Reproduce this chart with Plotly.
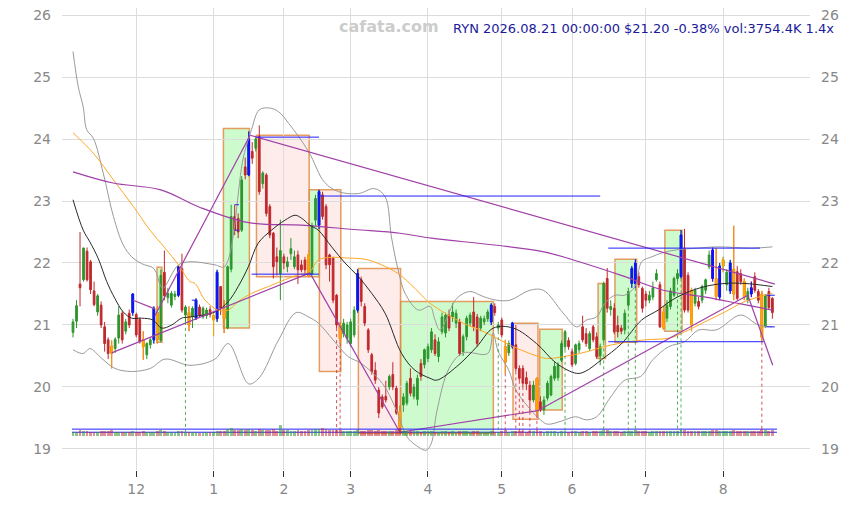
import plotly.graph_objects as go
import pandas as pd

# ---------------- data ----------------
HOLIDAYS = ["2025-11-27", "2025-12-25", "2026-01-01", "2026-01-19", "2026-02-16",
            "2026-04-03", "2026-05-25", "2026-06-19", "2026-07-03"]
DAYS = [d for d in pd.bdate_range("2025-11-04", "2026-08-21") if d.strftime("%Y-%m-%d") not in HOLIDAYS]

OPEN = [20.88, 21.06, 21.66, 21.73, 22.19, 22.02, 21.55, 21.21, 21.32, 20.97,
        20.76, 20.66, 20.62, 20.79, 21.19, 20.90, 21.19, 21.20, 21.17, 21.09,
        20.76, 20.52, 20.68, 20.76, 21.20, 20.75, 21.85, 21.44, 21.32, 21.46,
        21.48, 21.91, 21.16, 21.20, 21.13, 21.11, 21.29, 21.13, 21.15, 21.25,
        21.08, 21.10, 21.62, 21.26, 20.95, 21.90, 22.75, 22.72, 22.53, 23.55,
        23.42, 23.80, 23.85, 24.04, 23.28, 23.42, 22.91, 22.48, 22.10, 21.83,
        22.10, 21.94, 22.15, 21.94, 22.13, 21.97, 22.05, 22.13, 21.82, 22.69,
        22.61, 23.10, 22.91, 22.13, 22.08, 21.48, 21.00, 20.86, 20.78, 20.70,
        20.84, 21.24, 21.73, 21.30, 20.92, 20.52, 20.27, 19.95, 19.84, 19.85,
        20.00, 20.20, 19.98, 19.60, 19.71, 19.74, 20.14, 19.85, 19.80, 20.38,
        20.36, 20.46, 20.60, 20.76, 20.49, 20.89, 20.87, 21.16, 21.13, 21.03,
        21.05, 20.57, 20.81, 21.03, 21.21, 21.13, 20.95, 21.05, 21.10, 21.05,
        21.30, 20.95, 21.08, 20.65, 20.55, 20.65, 20.68, 20.30, 20.30, 20.15,
        20.03, 19.79, 20.14, 19.76, 19.63, 19.82, 19.87, 20.14, 20.15, 20.43,
        20.65, 20.75, 20.57, 20.38, 20.60, 20.97, 20.86, 20.62, 20.97, 20.81,
        20.50, 20.76, 21.75, 21.25, 21.27, 20.99, 20.95, 20.92, 21.32, 21.67,
        21.67, 21.78, 21.59, 21.50, 21.40, 21.45, 21.73, 21.65, 21.21, 21.11,
        21.30, 21.48, 21.75, 21.78, 22.24, 21.80, 21.56, 21.35, 21.38, 21.40,
        21.56, 21.94, 22.21, 21.75, 21.45, 21.95, 21.65, 21.55, 21.90, 21.86,
        21.83, 21.70, 21.40, 21.60, 21.78, 21.54, 21.50, 20.97, 21.54, 21.43]
HIGH = [21.10, 21.40, 22.50, 22.25, 22.25, 22.05, 21.70, 21.50, 21.38, 21.05,
        20.80, 20.75, 20.80, 21.30, 21.22, 21.10, 21.25, 21.51, 21.20, 21.12,
        20.90, 20.72, 20.80, 21.30, 21.30, 21.90, 22.20, 21.60, 21.55, 21.55,
        21.96, 22.15, 21.32, 21.30, 21.30, 21.43, 21.33, 21.30, 21.28, 21.30,
        21.20, 21.89, 21.62, 21.40, 21.96, 22.94, 22.94, 22.80, 23.40, 23.70,
        24.12, 23.95, 24.05, 24.22, 23.48, 23.45, 22.95, 22.50, 22.25, 22.70,
        22.15, 22.10, 22.40, 22.20, 22.20, 22.05, 22.10, 22.20, 22.65, 23.10,
        23.18, 23.15, 22.95, 22.15, 22.10, 21.50, 21.05, 21.10, 21.05, 21.10,
        21.30, 21.90, 21.78, 21.35, 20.95, 20.55, 20.40, 20.00, 19.88, 20.10,
        20.20, 20.40, 20.02, 19.70, 19.90, 20.10, 20.30, 20.05, 20.20, 20.45,
        20.62, 20.70, 20.95, 20.85, 20.80, 21.20, 21.20, 21.25, 21.35, 21.25,
        21.10, 20.85, 21.15, 21.20, 21.45, 21.18, 21.15, 21.15, 21.25, 21.35,
        21.35, 21.05, 21.12, 20.76, 20.75, 21.05, 21.00, 20.35, 20.35, 20.25,
        20.10, 20.10, 20.15, 19.85, 19.85, 20.10, 20.20, 20.40, 20.40, 20.75,
        20.92, 20.80, 20.62, 20.70, 20.75, 21.15, 20.95, 20.90, 21.00, 20.88,
        20.70, 21.70, 21.92, 21.40, 21.35, 21.15, 21.00, 21.25, 21.60, 21.95,
        22.06, 21.85, 21.62, 21.55, 21.55, 21.70, 21.90, 21.70, 21.30, 21.40,
        21.60, 21.78, 21.90, 22.53, 22.55, 21.85, 21.60, 21.60, 21.45, 21.65,
        21.75, 22.20, 22.25, 22.24, 22.00, 22.10, 21.90, 22.05, 22.60, 21.95,
        21.90, 21.75, 21.60, 21.70, 21.85, 21.58, 21.55, 21.50, 21.60, 21.45]
LOW = [20.80, 20.95, 21.30, 21.70, 21.70, 21.50, 21.30, 21.15, 20.95, 20.57,
       20.45, 20.30, 20.55, 20.70, 20.70, 20.85, 20.95, 21.15, 20.80, 20.70,
       20.44, 20.45, 20.62, 20.70, 20.70, 20.72, 21.40, 21.35, 21.28, 21.40,
       21.45, 21.20, 21.05, 20.90, 20.95, 21.08, 21.12, 21.10, 21.10, 21.12,
       20.82, 21.05, 21.16, 20.87, 20.93, 21.85, 22.45, 22.40, 22.50, 23.35,
       23.40, 23.60, 23.80, 23.10, 23.20, 22.75, 22.40, 21.75, 21.80, 21.40,
       21.90, 21.85, 22.05, 21.90, 21.66, 21.85, 21.80, 21.78, 21.80, 22.60,
       22.55, 22.70, 21.90, 21.70, 21.35, 20.95, 20.70, 20.80, 20.70, 20.65,
       20.80, 21.20, 21.30, 20.98, 20.55, 20.20, 20.05, 19.50, 19.65, 19.75,
       19.95, 19.95, 19.55, 19.25, 19.60, 19.70, 19.85, 19.80, 19.70, 20.10,
       20.30, 20.40, 20.55, 20.50, 20.40, 20.85, 20.80, 20.90, 21.05, 20.95,
       20.50, 20.50, 20.75, 20.98, 20.90, 20.65, 20.90, 21.00, 21.05, 21.00,
       21.15, 20.90, 20.80, 20.22, 20.50, 20.62, 20.25, 20.10, 20.00, 19.95,
       19.60, 19.75, 19.55, 19.60, 19.55, 19.78, 19.85, 20.10, 20.10, 20.40,
       20.60, 20.60, 20.32, 20.35, 20.55, 20.72, 20.65, 20.58, 20.72, 20.45,
       20.35, 20.72, 21.20, 21.15, 20.85, 20.80, 20.85, 20.85, 21.28, 21.60,
       21.60, 21.60, 21.20, 21.30, 21.35, 21.40, 21.70, 20.95, 20.92, 21.05,
       21.25, 21.45, 21.70, 21.75, 21.20, 21.20, 20.90, 21.30, 21.25, 21.35,
       21.50, 21.90, 21.70, 21.40, 21.40, 21.85, 21.55, 21.50, 21.40, 21.40,
       21.65, 21.40, 21.35, 21.45, 21.52, 21.35, 20.73, 20.95, 21.25, 21.10]
CLOSE = [21.05, 21.31, 21.60, 22.24, 21.73, 21.57, 21.33, 21.47, 21.00, 20.70,
         20.54, 20.54, 20.77, 21.16, 20.76, 21.05, 21.00, 21.50, 20.84, 20.73,
         20.65, 20.70, 20.76, 21.27, 20.76, 21.80, 21.47, 21.51, 21.51, 21.50,
         21.94, 21.24, 21.29, 21.00, 21.27, 21.40, 21.16, 21.27, 21.24, 21.17,
         21.15, 21.85, 21.27, 21.10, 21.94, 22.75, 22.53, 22.50, 23.34, 23.42,
         24.00, 23.69, 24.00, 23.15, 23.45, 22.80, 22.45, 21.94, 22.02, 22.20,
         22.00, 22.02, 22.23, 22.10, 21.89, 21.89, 21.89, 21.80, 22.60, 23.04,
         23.15, 22.75, 21.97, 21.97, 21.40, 21.00, 20.78, 21.03, 21.00, 21.05,
         21.24, 21.83, 21.38, 21.03, 20.60, 20.25, 20.11, 19.58, 19.68, 19.79,
         20.17, 20.00, 19.58, 19.35, 19.84, 20.06, 19.90, 20.00, 20.14, 20.17,
         20.60, 20.65, 20.89, 20.54, 20.73, 21.13, 21.16, 20.95, 21.21, 21.19,
         20.54, 20.81, 21.11, 21.16, 20.97, 20.70, 21.11, 21.10, 21.21, 21.32,
         21.20, 21.00, 20.84, 20.40, 20.70, 21.03, 20.30, 20.14, 20.06, 20.05,
         19.79, 20.03, 19.60, 19.63, 19.79, 20.06, 20.17, 20.33, 20.35, 20.70,
         20.89, 20.65, 20.36, 20.68, 20.70, 20.76, 20.70, 20.86, 20.76, 20.49,
         20.65, 21.67, 21.27, 21.30, 20.89, 20.89, 20.90, 21.19, 21.54, 21.91,
         22.00, 21.65, 21.27, 21.40, 21.48, 21.60, 21.83, 20.97, 20.95, 21.32,
         21.55, 21.75, 21.83, 22.45, 21.24, 21.24, 21.00, 21.56, 21.30, 21.62,
         21.73, 22.13, 21.75, 21.46, 21.95, 22.05, 21.85, 22.00, 21.50, 21.43,
         21.70, 21.45, 21.54, 21.50, 21.56, 21.40, 20.80, 21.48, 21.28, 21.20]
VOLUME_K = [2600, 2400, 3900, 3100, 2800, 2700, 2500, 2300, 2900, 3200,
            3000, 3400, 2600, 2700, 2500, 2400, 2300, 2800, 2600, 2700,
            3100, 2500, 2200, 2600, 3000, 3500, 3300, 2400, 2200, 2100,
            2800, 3300, 2500, 2700, 2300, 2400, 2000, 2100, 2200, 2300,
            2600, 3200, 2800, 2900, 4200, 4800, 3700, 3400, 4100, 3600,
            4500, 3800, 3300, 4400, 3500, 3900, 3600, 4000, 3200, 6800,
            3800, 3400, 3000, 3200, 3600, 3300, 3100, 3700, 3900, 4300,
            4100, 4600, 4000, 3700, 3500, 3800, 3400, 3000, 3100, 2900,
            3200, 3500, 3100, 3300, 3600, 3400, 3000, 3800, 3300, 2900,
            3100, 3200, 3700, 4600, 3300, 3000, 2900, 2800, 3100, 2700,
            2900, 2800, 3000, 2700, 2600, 3100, 2900, 2700, 2800, 2600,
            3200, 2800, 2900, 2700, 3000, 3100, 2600, 2500, 2700, 2900,
            2700, 2600, 2800, 3400, 2700, 3000, 3300, 2900, 2800, 2700,
            3100, 2900, 3500, 2800, 2700, 2900, 3000, 2800, 2700, 3000,
            3100, 2700, 2900, 2800, 2600, 3000, 2800, 2700, 2900, 3000,
            2800, 3900, 3600, 2900, 3100, 2800, 2600, 2900, 3000, 3300,
            3500, 3000, 3100, 2800, 2700, 2900, 3000, 3300, 3100, 2900,
            3000, 3100, 2900, 3800, 3600, 3200, 3300, 2900, 2800, 2900,
            3000, 3200, 3400, 3500, 3300, 3100, 2900, 3200, 3900, 3300,
            3000, 3100, 2900, 3000, 3200, 3100, 4000, 3600, 3300, 3754]

BLUE_IDX = [17, 23, 30, 35, 41, 50, 70, 81, 119, 125, 159, 160, 173, 182, 184, 187, 193]
ORANGE_IDX = [11, 20, 24, 33, 40, 43, 67, 76, 93, 123, 132, 168, 176, 183, 185, 188, 191, 196]

# moving-average / band lines read at selected bars
BLACK_IDX = [0, 2.9, 4.8, 7.2, 9.6, 11.9, 14.3, 16.7, 19.5, 22.8, 25.2, 28.1, 30.9, 33.3, 40.4,
             44.2, 47.0, 49.9, 52.7, 56.5, 60.3, 63.2, 65.1, 67.4, 69.8, 73.6, 77.4, 81.2, 85.0,
             88.8, 93.5, 97.3, 101.6, 103.5, 109.2, 114.9, 119.6, 125.3, 131.9, 137.6, 143.3,
             145.7, 150.4, 156.1, 161.8, 166.5, 169.8, 174.1, 179.8, 185.5, 191.2, 199]
BLACK_VAL = [23.02, 22.53, 22.34, 22.07, 21.70, 21.43, 21.21, 21.11, 21.11, 21.08, 20.95, 21.00,
             21.11, 21.13, 21.21, 21.38, 21.62, 21.94, 22.32, 22.53, 22.69, 22.77, 22.72, 22.61,
             22.53, 22.26, 22.00, 21.78, 21.51, 21.19, 20.54, 20.27, 20.14, 20.11, 20.33, 20.65,
             20.95, 20.95, 20.70, 20.38, 20.22, 20.25, 20.44, 20.70, 21.08, 21.24, 21.38, 21.51,
             21.62, 21.67, 21.67, 21.62]
ORANGE_IDX_MA = [0, 5.8, 11.5, 17.2, 21.9, 26.2, 30.0, 33.3, 34.7, 37.6, 41.3, 44.2, 47.0, 50.8,
                 55.6, 60.3, 64.1, 67.4, 69.8, 73.6, 78.3, 83.1, 87.8, 92.5, 97.3, 101.6, 111.0,
                 115.8, 120.5, 125.3, 130.0, 134.8, 139.5, 144.2, 153.3, 162.7, 169.8, 174.1,
                 179.8, 185.5, 191.2, 199]
ORANGE_VAL = [24.10, 23.77, 23.34, 22.91, 22.53, 22.24, 21.97, 21.70, 21.67, 21.40, 21.24, 21.24,
              21.38, 21.51, 21.62, 21.73, 21.81, 21.86, 22.05, 22.09, 22.08, 22.06, 21.97, 21.83,
              21.59, 21.35, 21.03, 20.92, 20.79, 20.65, 20.54, 20.46, 20.49, 20.54, 20.68, 20.76,
              20.79, 20.89, 21.05, 21.21, 21.38, 21.51]
PURPLE_IDX = [0, 11.4, 25, 36, 50, 65, 80, 93, 102, 120, 134, 144, 156, 168, 180, 190, 199]
PURPLE_VAL = [23.47, 23.29, 23.18, 22.90, 22.65, 22.61, 22.54, 22.48, 22.40, 22.29, 22.18, 22.02,
              21.80, 21.56, 21.45, 21.34, 21.24]
BB_UP_IDX = [0, 1.5, 2.9, 3.9, 5.8, 8.6, 11.5, 14.3, 16.7, 19.5, 23.0, 24.8, 25.6, 30.0, 33.3,
             40.4, 43.1, 48.5, 50.8, 53.0, 55.9, 58.5, 61.4, 67.0, 71.6, 75.6, 81.2, 85.8, 88.8,
             90.6, 92.5, 94.5, 98.3, 101.6, 102.9, 104.4, 109.2, 112.9, 116.7, 120.5, 124.3,
             130.0, 133.8, 139.5, 143.3, 146.1, 149.0, 151.3, 154.2, 157.0, 159.9, 161.8, 164.7,
             167.5, 171.5, 177.7, 183.4, 193.1, 199]
BB_UP_VAL = [25.41, 24.84, 24.52, 24.15, 24.01, 23.45, 22.75, 22.29, 22.10, 21.99, 21.91, 21.65,
             21.59, 21.97, 22.02, 21.97, 21.94, 23.71, 24.15, 24.47, 24.50, 24.44, 24.25, 23.80,
             23.30, 23.15, 23.12, 23.20, 23.07, 22.42, 21.89, 21.51, 21.24, 21.30, 21.10, 20.92,
             21.43, 21.54, 21.46, 21.40, 21.40, 21.56, 21.56, 21.19, 20.97, 21.08, 21.13, 21.35,
             21.48, 21.48, 21.62, 22.02, 22.10, 22.16, 22.21, 22.24, 22.26, 22.24, 22.26]
BB_LO_IDX = [0, 2.9, 4.8, 8.2, 11.9, 16.7, 22.0, 26.2, 33.3, 40.4, 44.2, 50.0, 53.0, 58.5, 63.5,
             67.0, 69.8, 74.0, 78.3, 82.0, 88.0, 92.0, 95.0, 97.8, 100.5, 102.0, 103.5, 107.0,
             111.0, 118.0, 119.5, 121.0, 124.0, 126.0, 129.5, 133.0, 135.0, 139.0, 143.0, 146.0,
             149.0, 153.0, 157.0, 161.5, 165.0, 169.5, 174.0, 178.0, 183.0, 190.0, 195.0, 199]
BB_LO_VAL = [20.60, 20.54, 20.62, 20.46, 20.30, 20.25, 20.30, 20.45, 20.35, 20.45, 20.70, 20.05,
             20.15, 20.76, 21.20, 21.13, 21.03, 20.76, 20.49, 20.38, 20.06, 19.63, 19.20, 19.05,
             18.98, 19.10, 19.60, 20.30, 20.55, 20.54, 20.87, 20.57, 20.27, 19.95, 19.68, 19.47,
             19.40, 19.45, 19.52, 19.47, 19.52, 19.84, 20.11, 20.17, 20.44, 20.65, 20.73, 20.92,
             20.92, 21.16, 21.00, 20.97]

# boxes: start bar, end bar, low, high, kind
BOX_START = [23.9, 42.8, 52.2, 67.2, 70.1, 81.2, 93.2, 125.2, 132.8, 149.4, 154.2, 168.4]
BOX_END = [25.3, 50.2, 67.2, 70.1, 76.2, 93.2, 119.6, 132.3, 139.2, 151.5, 160.4, 173.3]
BOX_LOW = [20.72, 20.95, 21.78, 21.78, 20.25, 19.25, 19.25, 19.48, 19.63, 20.46, 20.72, 20.90]
BOX_HIGH = [21.93, 24.17, 24.06, 23.18, 23.18, 21.91, 21.38, 21.03, 20.93, 21.67, 22.06, 22.53]
BOX_KIND = ["up", "up", "down", "up", "down", "down", "up", "down", "up", "up", "up", "up"]

# blue level lines: start bar, end bar, level
LEVEL_START = [52.2, 50.8, 70.0, 152.3, 152.3, 197.3, 197.3, 33.8, 46.0, 46.0, -0.3, -0.3]
LEVEL_END = [70.0, 70.0, 150.0, 195.5, 196.5, 199.7, 199.7, 35.2, 47.2, 47.2, 200.3, 200.3]
LEVEL_VAL = [24.03, 21.82, 23.08, 22.24, 20.73, 21.48, 20.97, 21.40, 22.94, 22.53, 19.32, 19.27]

# purple trend segments: bar0, value0, bar1, value1
TREND_I0 = [11.0, 17.1, 23.3, 50.4, 67.4, 93.0, 132.3, 192.0]
TREND_V0 = [20.55, 21.40, 21.15, 24.06, 21.84, 19.27, 19.62, 21.48]
TREND_I1 = [67.4, 23.3, 50.4, 199.7, 93.0, 132.3, 192.0, 199.1]
TREND_V1 = [21.84, 21.26, 24.06, 21.66, 19.27, 19.62, 21.48, 20.35]

MARK_UP_IDX = [32, 121, 140, 151, 158, 160, 172, 173]
MARK_DOWN_IDX = [75, 76, 123, 126, 127, 128, 130, 132, 196]
BASE_LEVEL = 19.25

MONTH_LABELS = {12: "12", 1: "1", 2: "2", 3: "3", 4: "4", 5: "5", 6: "6", 7: "7", 8: "8"}
TITLE = "RYN 2026.08.21 00:00:00 $21.20 -0.38% vol:3754.4K 1.4x"
WATERMARK = "cafata.com"

# ---------------- figure ----------------
N = len(DAYS)
assert N == len(OPEN) == len(HIGH) == len(LOW) == len(CLOSE) == len(VOLUME_K) == 200
X = list(range(N))

GREEN = "#2d962d"
RED = "#c0282c"
FONT = "DejaVu Sans"

fig = go.Figure()

# boxes
for s, e, lo, hi, k in zip(BOX_START, BOX_END, BOX_LOW, BOX_HIGH, BOX_KIND):
    fig.add_shape(type="rect", xref="x", yref="y", x0=s, x1=e, y0=lo, y1=hi, layer="below",
                  line=dict(color="rgba(226,140,70,0.85)", width=1.5),
                  fillcolor="rgba(60,240,60,0.25)" if k == "up" else "rgba(245,120,110,0.14)")

# volume bars
vcol = ["rgba(45,150,45,0.55)" if c >= o else "rgba(192,40,44,0.5)" for o, c in zip(OPEN, CLOSE)]
fig.add_trace(go.Bar(x=X, y=VOLUME_K, yaxis="y2", marker=dict(color=vcol, line=dict(width=0)),
                     width=0.8, hoverinfo="skip", showlegend=False))

# bands and averages
fig.add_trace(go.Scatter(x=BB_UP_IDX, y=BB_UP_VAL, mode="lines", line=dict(color="#9a9a9a", width=1, shape="spline"),
                         hoverinfo="skip", showlegend=False))
fig.add_trace(go.Scatter(x=BB_LO_IDX, y=BB_LO_VAL, mode="lines", line=dict(color="#9a9a9a", width=1, shape="spline"),
                         hoverinfo="skip", showlegend=False))
fig.add_trace(go.Scatter(x=ORANGE_IDX_MA, y=ORANGE_VAL, mode="lines", line=dict(color="#ffa726", width=1, shape="spline"),
                         hoverinfo="skip", showlegend=False))
fig.add_trace(go.Scatter(x=PURPLE_IDX, y=PURPLE_VAL, mode="lines", line=dict(color="#a040a8", width=1.2, shape="spline"),
                         hoverinfo="skip", showlegend=False))
fig.add_trace(go.Scatter(x=BLACK_IDX, y=BLACK_VAL, mode="lines", line=dict(color="#2a2a2a", width=1, shape="spline"),
                         hoverinfo="skip", showlegend=False))

# trend segments
tx, ty = [], []
for a, b, c, d in zip(TREND_I0, TREND_V0, TREND_I1, TREND_V1):
    tx += [a, c, None]
    ty += [b, d, None]
fig.add_trace(go.Scatter(x=tx, y=ty, mode="lines", line=dict(color="#a040a8", width=1.2),
                         hoverinfo="skip", showlegend=False))

# level lines
lx, ly = [], []
for s, e, v in zip(LEVEL_START, LEVEL_END, LEVEL_VAL):
    lx += [s, e, None]
    ly += [v, v, None]
fig.add_trace(go.Scatter(x=lx, y=ly, mode="lines", line=dict(color="#2020ff", width=1),
                         hoverinfo="skip", showlegend=False))

# dotted marker lines
for idxs, col in ((MARK_UP_IDX, "rgba(45,150,45,0.8)"), (MARK_DOWN_IDX, "rgba(200,40,44,0.8)")):
    mx, my = [], []
    for i in idxs:
        mx += [i, i, None]
        my += [LOW[i], BASE_LEVEL, None]
    fig.add_trace(go.Scatter(x=mx, y=my, mode="lines", line=dict(color=col, width=1, dash="dot"),
                             hoverinfo="skip", showlegend=False))

# candles
fig.add_trace(go.Candlestick(x=X, open=OPEN, high=HIGH, low=LOW, close=CLOSE,
                             increasing=dict(line=dict(color=GREEN, width=1), fillcolor=GREEN),
                             decreasing=dict(line=dict(color=RED, width=1), fillcolor=RED),
                             whiskerwidth=0, showlegend=False))
for idxs, col in ((ORANGE_IDX, "#ffa500"), (BLUE_IDX, "#1010ff")):
    fig.add_trace(go.Candlestick(x=idxs, open=[OPEN[i] for i in idxs], high=[HIGH[i] for i in idxs],
                                 low=[LOW[i] for i in idxs], close=[CLOSE[i] for i in idxs],
                                 increasing=dict(line=dict(color=col, width=1), fillcolor=col),
                                 decreasing=dict(line=dict(color=col, width=1), fillcolor=col),
                                 whiskerwidth=0, showlegend=False))

# right-side axis carrier
fig.add_trace(go.Scatter(x=[0], y=[22], yaxis="y3", mode="markers", marker=dict(opacity=0),
                         hoverinfo="skip", showlegend=False))

# month ticks
tickvals, ticktext = [], []
for i, d in enumerate(DAYS):
    if i > 0 and d.month != DAYS[i - 1].month:
        tickvals.append(i)
        ticktext.append(MONTH_LABELS[d.month])

YR = [18.661, 26.113]
ticks_y = [19, 20, 21, 22, 23, 24, 25, 26]
# the page body adds an 8px offset, so the margins are shifted by that amount
fig.update_layout(
    width=868, height=507,
    margin=dict(l=54, r=66, t=0, b=45, autoexpand=False),
    paper_bgcolor="white", plot_bgcolor="white",
    font=dict(family=FONT, size=14, color="#888888"),
    showlegend=False, bargap=0,
    xaxis=dict(range=[-3.13, 209.7], tickvals=tickvals, ticktext=ticktext, showgrid=True,
               gridcolor="#dcdcdc", gridwidth=1, zeroline=False, ticks="outside", ticklen=6,
               tickcolor="#333333", rangeslider=dict(visible=False), showline=False,
               tickfont=dict(size=14, color="#888888")),
    yaxis=dict(range=YR, tickvals=ticks_y, showgrid=True, gridcolor="#dcdcdc", gridwidth=1,
               zeroline=False, side="left", ticks="", ticklabelstandoff=10, automargin=False,
               ticklabeloverflow="allow", tickfont=dict(size=14, color="#888888")),
    yaxis2=dict(range=[-20400, 256800], overlaying="y", visible=False),
    yaxis3=dict(range=YR, tickvals=ticks_y, overlaying="y", side="right", showgrid=False, automargin=False,
                zeroline=False, ticks="", ticklabelstandoff=10, ticklabeloverflow="allow",
                tickfont=dict(size=14, color="#888888")),
)

PW, PH = 868 - 54 - 66, 507 - 45
fig.add_annotation(xref="paper", yref="paper", x=(381 - 54) / PW, y=(PH - 19) / PH, text="<b>" + WATERMARK + "</b>",
                   showarrow=False, font=dict(family=FONT, size=16, color="#cccccc"), xanchor="center", yanchor="middle")
fig.add_annotation(xref="paper", yref="paper", x=(443 - 54) / PW, y=(PH - 21) / PH, text=TITLE,
                   showarrow=False, font=dict(family=FONT, size=13, color="#1a1a9a"), xanchor="left", yanchor="middle")

fig.write_html("out.html")
